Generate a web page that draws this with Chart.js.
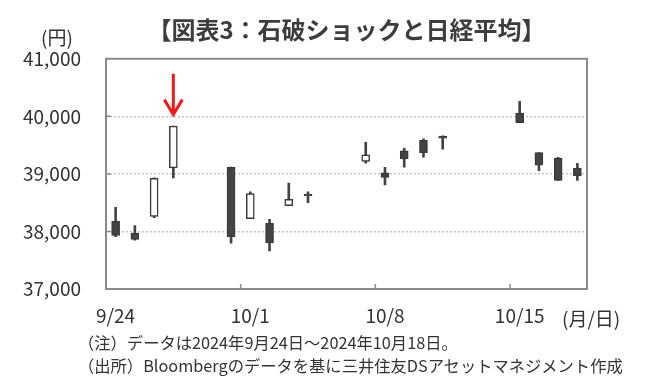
<!DOCTYPE html>
<html lang="ja">
<head>
<meta charset="utf-8">
<script src="https://cdn.jsdelivr.net/npm/chart.js@4.4.1/dist/chart.umd.min.js"></script>
<style>
  body { margin: 0; background: #fff; }
  #wrap { position: relative; width: 654px; height: 384px; font-family: 'Noto Sans CJK JP', sans-serif; color: #333; }
  #wrap canvas { position: absolute; left: 0; top: 0; }
  .lbl { position: absolute; white-space: nowrap; line-height: 1; }
</style>
</head>
<body>
<div id="wrap">
  <canvas id="nikkeiChart" width="654" height="384"></canvas>
  <div class="lbl" style="left:41px;top:27px;font-size:19px;">(円)</div>
  <div class="lbl" style="left:562px;top:308px;font-size:19px;">(月/日)</div>
  <div class="lbl" style="left:78px;top:334px;font-size:16.3px;">（注）データは2024年9月24日～2024年10月18日。</div>
  <div class="lbl" style="left:78px;top:357px;font-size:16.3px;">（出所）Bloombergのデータを基に三井住友DSアセットマネジメント作成</div>
</div>
<script>
// 営業日以外は null（カレンダー日ベースの横軸）
const days = ['9/24', '9/25', '9/26', '9/27', '9/28', '9/29', '9/30',
              '10/1', '10/2', '10/3', '10/4', '10/5', '10/6', '10/7',
              '10/8', '10/9', '10/10', '10/11', '10/12', '10/13', '10/14',
              '10/15', '10/16', '10/17', '10/18'];
const openPrices  = [38180, 37970, 38260, 39105, null, null, 39115, 38220, 38140, 38450, 38650, null, null, 39215,
                     39020, 39400, 39585, 39655, null, null, null, 40055, 39370, 39275, 39100];
const highPrices  = [38420, 38100, 38930, 39830, null, null, 39120, 38690, 38210, 38840, 38690, null, null, 39550,
                     39115, 39445, 39610, 39660, null, null, null, 40260, 39370, 39290, 39185];
const lowPrices   = [37910, 37850, 38240, 38930, null, null, 37795, 38220, 37660, 38450, 38500, null, null, 39185,
                     38810, 39115, 39290, 39430, null, null, null, 39890, 39055, 38885, 38885];
const closePrices = [37930, 37860, 38925, 39830, null, null, 37910, 38660, 37800, 38560, 38620, null, null, 39330,
                     38940, 39260, 39370, 39620, null, null, null, 39890, 39150, 38885, 38965];
const tickDays = ['9/24', '10/1', '10/8', '10/15'];
const yMin = 37000;
const yMax = 41000;
const yStep = 1000;
// 矢印（9/27の上）
const arrowDay = '9/27';
const arrowFrom = 40740;
const arrowTo = 40030;

const fontFamily = "'Noto Sans CJK JP', sans-serif";
const candleDark = '#444444';

const wicks = days.map((d, i) => lowPrices[i] == null ? null : [lowPrices[i], highPrices[i]]);
const bodies = days.map((d, i) => openPrices[i] == null ? null : [openPrices[i], closePrices[i]]);

const framePlugin = {
    id: 'frame',
    afterDraw(chart) {
        const {ctx, chartArea} = chart;
        const x = chart.scales.x;
        const y = chart.scales.y;
        ctx.save();
        ctx.strokeStyle = '#8a8a8a';
        ctx.lineWidth = 2;
        ctx.strokeRect(chartArea.left, chartArea.top, chartArea.right - chartArea.left, chartArea.bottom - chartArea.top);

        // 内向きの目盛り
        ctx.lineWidth = 1.5;
        ctx.beginPath();
        y.ticks.forEach(t => {
            if (t.value === yMin || t.value === yMax) return;
            const py = y.getPixelForValue(t.value);
            ctx.moveTo(chartArea.left, py);
            ctx.lineTo(chartArea.left + 5, py);
        });
        tickDays.slice(1).forEach(d => {
            const i = days.indexOf(d);
            const px = (x.getPixelForValue(i - 1) + x.getPixelForValue(i)) / 2;
            ctx.moveTo(px, chartArea.bottom);
            ctx.lineTo(px, chartArea.bottom - 5);
        });
        ctx.stroke();

        // 赤い矢印
        const ax = x.getPixelForValue(days.indexOf(arrowDay));
        const y1 = y.getPixelForValue(arrowFrom);
        const y2 = y.getPixelForValue(arrowTo);
        ctx.strokeStyle = '#ee1c1c';
        ctx.lineWidth = 3;
        ctx.beginPath();
        ctx.moveTo(ax, y1);
        ctx.lineTo(ax, y2);
        ctx.moveTo(ax - 9, y2 - 15);
        ctx.lineTo(ax, y2);
        ctx.lineTo(ax + 9, y2 - 15);
        ctx.stroke();
        ctx.restore();
    }
};

new Chart(document.getElementById('nikkeiChart'), {
    type: 'bar',
    data: {
        labels: days,
        datasets: [{
            label: '高値・安値',
            data: wicks,
            backgroundColor: candleDark,
            barThickness: 2,
            grouped: false,
            order: 1
        }, {
            label: '始値・終値',
            data: bodies,
            backgroundColor: ctx => closePrices[ctx.dataIndex] >= openPrices[ctx.dataIndex] ? '#ffffff' : candleDark,
            borderColor: '#3a3a3a',
            borderWidth: 1.5,
            borderSkipped: false,
            barThickness: 8,
            grouped: false,
            order: 0
        }]
    },
    options: {
        responsive: false,
        animation: false,
        devicePixelRatio: 1,
        layout: {
            padding: { top: 0, right: 67, bottom: 0, left: 0 }
        },
        plugins: {
            legend: { display: false },
            tooltip: { enabled: false },
            title: {
                display: true,
                text: '【図表3：石破ショックと日経平均】',
                fullSize: false,
                color: '#3d3d3d',
                font: { family: fontFamily, size: 24, weight: 'bold' },
                padding: { top: 15, bottom: 15 }
            }
        },
        scales: {
            x: {
                type: 'category',
                offset: true,
                grid: { display: false, offset: true },
                border: { display: false },
                ticks: {
                    autoSkip: false,
                    maxRotation: 0,
                    color: '#333',
                    padding: 7,
                    font: { family: fontFamily, size: 19 },
                    callback: function(value) {
                        const label = this.getLabelForValue(value);
                        return tickDays.includes(label) ? label : '';
                    }
                },
                afterFit: scale => { scale.height = 95; }
            },
            y: {
                min: yMin,
                max: yMax,
                grid: {
                    color: ctx => (ctx.tick.value === yMin || ctx.tick.value === yMax) ? 'rgba(0,0,0,0)' : '#c4c4c4',
                    lineWidth: 1.5,
                    drawTicks: false
                },
                border: { display: false, dash: [2, 2] },
                ticks: {
                    stepSize: yStep,
                    padding: 25,
                    color: '#333',
                    font: { family: fontFamily, size: 19 },
                    callback: v => v.toLocaleString('en-US')
                },
                afterFit: scale => { scale.width = 106; }
            }
        }
    },
    plugins: [framePlugin]
});
</script>
</body>
</html>
